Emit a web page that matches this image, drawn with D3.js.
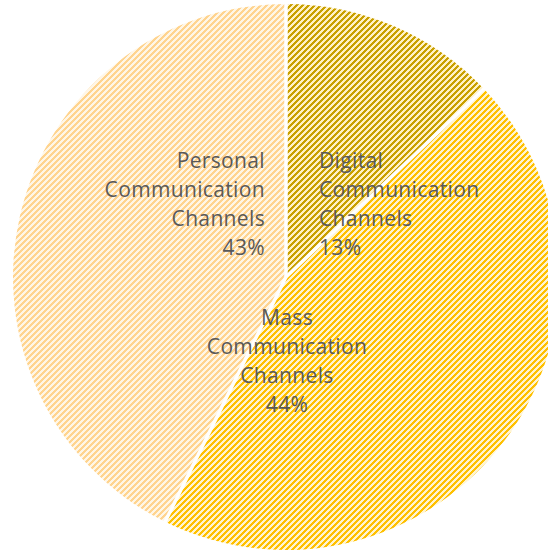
<!DOCTYPE html>
<html>
<head>
<meta charset="utf-8">
<script src="https://cdn.jsdelivr.net/npm/d3@7"></script>
<style>
  body { margin: 0; background: #fff; }
  svg { display: block; }
</style>
</head>
<body>
<div id="chart"></div>
<script>
// data
const categories = [ 'Digital Communication Channels', 'Mass Communication Channels', 'Personal Communication Channels' ];
const shares = [ 12.9, 44.4, 42.7 ];

// pattern colours per slice: [stripe, background]
const stripeColors = [ '#c9a000', '#ffc000', '#ffd48f' ];
const fillColors = [ '#fff1c6', '#fff4d0', '#fff6e6' ];

const width = 548, height = 550;
const cx = 286, cy = 277, radius = 273;

// label anchors relative to pie centre (Excel "best fit" placement)
const labelLayout = [
  { dx: 33, dy: -109, anchor: 'start' },
  { dx: 1, dy: 48, anchor: 'middle' },
  { dx: -21, dy: -109, anchor: 'end' }
];
const lineHeight = 29;

const svg = d3.select( '#chart' )
  .append( 'svg' )
  .attr( 'width', width )
  .attr( 'height', height );

const defs = svg.append( 'defs' );

// wide upward diagonal pattern
stripeColors.forEach( ( c, i ) => {
  const p = defs.append( 'pattern' )
    .attr( 'id', `pat${i}` )
    .attr( 'patternUnits', 'userSpaceOnUse' )
    .attr( 'width', 6 )
    .attr( 'height', 6 );
  p.append( 'rect' ).attr( 'width', 6 ).attr( 'height', 6 ).attr( 'fill', fillColors[i] );
  p.append( 'path' )
    .attr( 'd', 'M1.7,0L4.3,0L0,4.3L0,1.7Z M6,1.7L6,4.3L4.3,6L1.7,6Z' )
    .attr( 'fill', c )
    .attr( 'shape-rendering', 'crispEdges' );
} );

const g = svg.append( 'g' ).attr( 'transform', `translate(${cx},${cy})` );

const pie = d3.pie().sort( null ).value( d => d );
const arc = d3.arc().innerRadius( 0 ).outerRadius( radius );
const arcs = pie( shares );

g.selectAll( 'path.slice' )
  .data( arcs )
  .join( 'path' )
  .attr( 'class', 'slice' )
  .attr( 'd', arc )
  .attr( 'fill', ( d, i ) => `url(#pat${i})` );

// white separators between slices
g.selectAll( 'line.sep' )
  .data( arcs )
  .join( 'line' )
  .attr( 'class', 'sep' )
  .attr( 'x1', 0 ).attr( 'y1', 0 )
  .attr( 'x2', d => Math.sin( d.startAngle ) * ( radius + 2 ) )
  .attr( 'y2', d => -Math.cos( d.startAngle ) * ( radius + 2 ) )
  .attr( 'stroke', '#fff' )
  .attr( 'stroke-width', 3.5 );

const total = d3.sum( shares );
const pct = d3.format( '.0%' );

// data labels
arcs.forEach( ( d, i ) => {
  const lay = labelLayout[i];
  const words = categories[i].split( ' ' );
  const lines = [ words[0], words[1], words[2], pct( shares[i] / total ) ];
  const t = g.append( 'text' )
    .attr( 'text-anchor', lay.anchor )
    .attr( 'font-family', '"Open Sans", sans-serif' )
    .attr( 'font-size', 21 )
    .attr( 'letter-spacing', 0.35 )
    .attr( 'fill', '#595959' );
  lines.forEach( ( s, j ) => {
    t.append( 'tspan' )
      .attr( 'x', lay.dx )
      .attr( 'y', lay.dy + j * lineHeight )
      .text( s );
  } );
} );
</script>
</body>
</html>
